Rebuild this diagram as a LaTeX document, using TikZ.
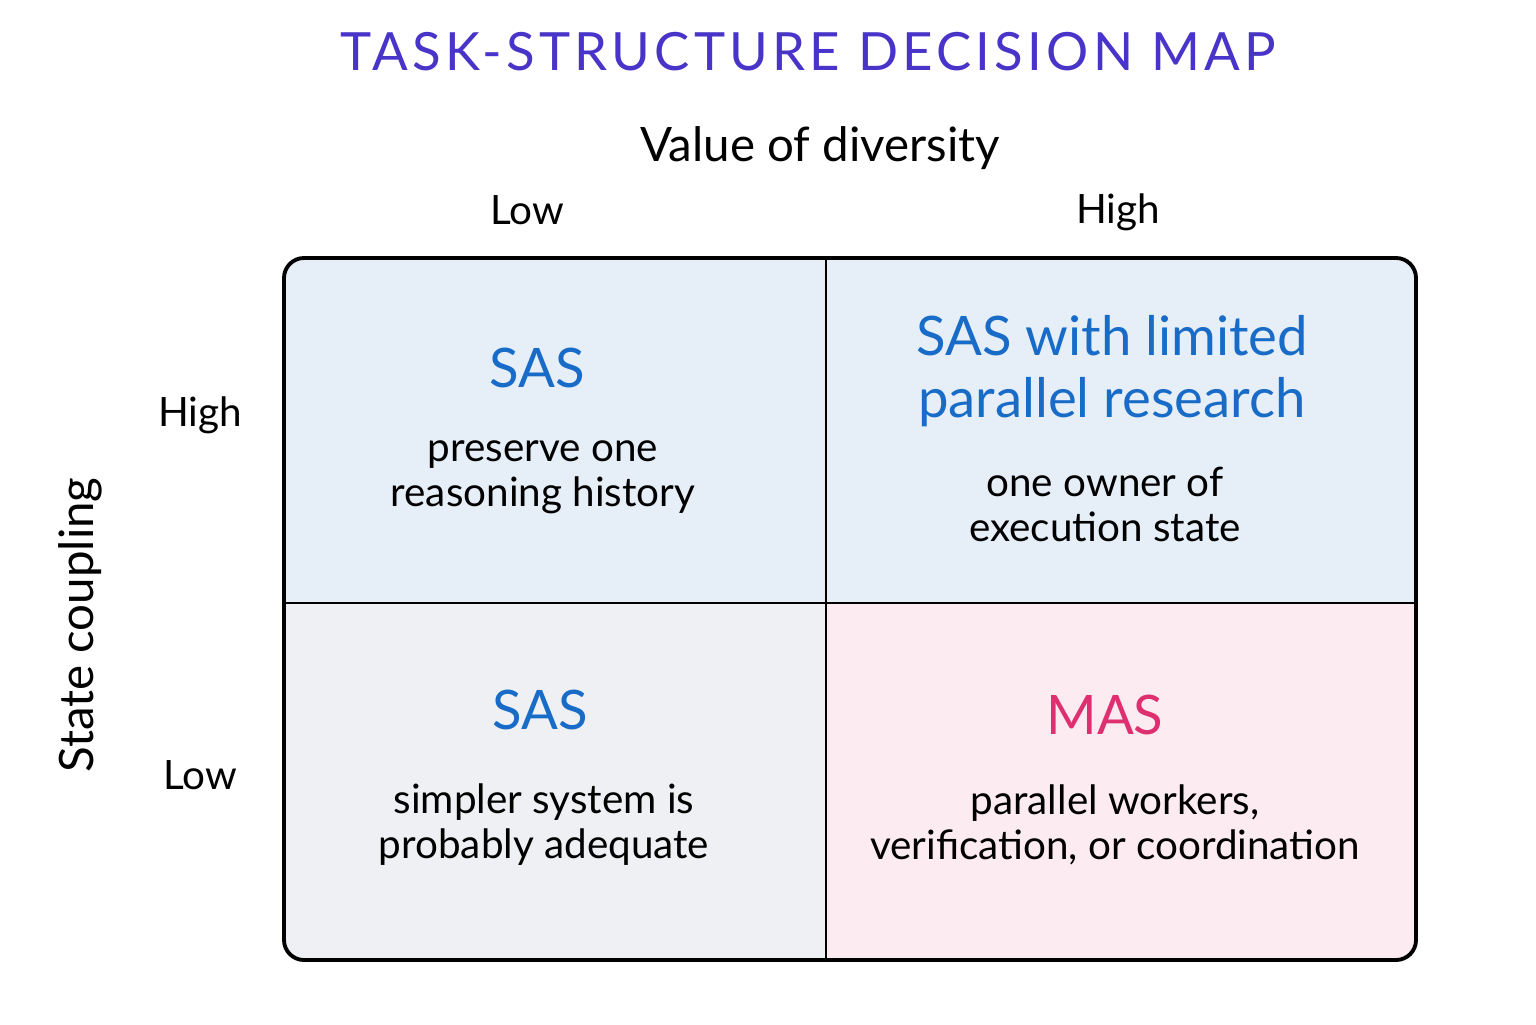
\documentclass[tikz,border=0pt]{standalone}
\usepackage{fontspec}
\setmainfont{Lato}
\newfontfamily\titlefont[LetterSpace=8]{Lato}
\usetikzlibrary{positioning}
\definecolor{titleblue}{RGB}{72,52,200}
\definecolor{sasblue}{RGB}{24,108,200}
\definecolor{maspink}{RGB}{222,48,112}
\definecolor{cellblue}{RGB}{230,238,248}
\definecolor{cellgray}{RGB}{238,240,243}
\definecolor{cellpink}{RGB}{252,235,241}
\tikzset{
  maptitle/.style={text=titleblue, font=\titlefont\fontsize{15}{18}\selectfont},
  axis/.style={font=\fontsize{13.5}{16}\selectfont},
  level/.style={font=\fontsize{11.5}{13}\selectfont},
  verdict/.style={align=center, font=\fontsize{15.5}{17.6}\selectfont},
  note/.style={align=center, font=\fontsize{11.5}{12.8}\selectfont},
  frame/.style={line width=1.1pt, rounded corners=2mm},
  split/.style={line width=0.8pt}
}
\begin{document}
\begin{tikzpicture}
\useasboundingbox (0,0) rectangle (15.36,10.24);
\begin{scope}
    \coordinate (sw) at (2.84,0.64);
    \coordinate (ne) at (14.16,7.66);
    \coordinate (top) at (8.26,7.66);
    \coordinate (bot) at (8.26,0.64);
    \coordinate (lft) at (2.84,4.21);
    \coordinate (rgt) at (14.16,4.21);
    \coordinate (mid) at (8.26,4.21);

    \begin{scope}
      \clip [rounded corners=2mm] (sw) rectangle (ne);
      \fill [cellblue] (lft) rectangle (ne);
      \fill [cellgray] (sw) rectangle (mid);
      \fill [cellpink] (bot) rectangle (rgt);
    \end{scope}
    \draw [frame] (sw) rectangle (ne);
    \path [split] (top) edge (bot);
    \path [split] (lft) edge (rgt);

    \node [maptitle] (title) at (8.08,9.72) {TASK-STRUCTURE DECISION MAP};
    \node [axis] (xaxis) at (8.20,8.76) {Value of diversity};
    \node [level] (xlow) at (5.27,8.14) {Low};
    \node [level] (xhigh) at (11.18,8.12) {High};
    \node [axis, rotate=90] (yaxis) at (0.80,3.99) {State coupling};
    \node [level] (yhigh) at (2.00,6.09) {High};
    \node [level] (ylow) at (2.00,2.49) {Low};

    \node [verdict, text=sasblue] (sasA) at (5.37,6.56) {SAS};
    \node [note] (sasAnote) at (5.43,5.47) {preserve one\\reasoning history};
    \node [verdict, text=sasblue] (limited) at (11.12,6.53) {SAS with limited\\parallel research};
    \node [note] (limitednote) at (11.05,5.20) {one owner of\\execution state};
    \node [verdict, text=sasblue] (sasB) at (5.40,3.14) {SAS};
    \node [note] (sasBnote) at (5.44,1.99) {simpler system is\\probably adequate};
    \node [verdict, text=maspink] (mas) at (11.05,3.09) {MAS};
    \node [note] (masnote) at (11.15,1.99) {parallel workers,\\verification, or coordination};
\end{scope}
\end{tikzpicture}
\end{document}
